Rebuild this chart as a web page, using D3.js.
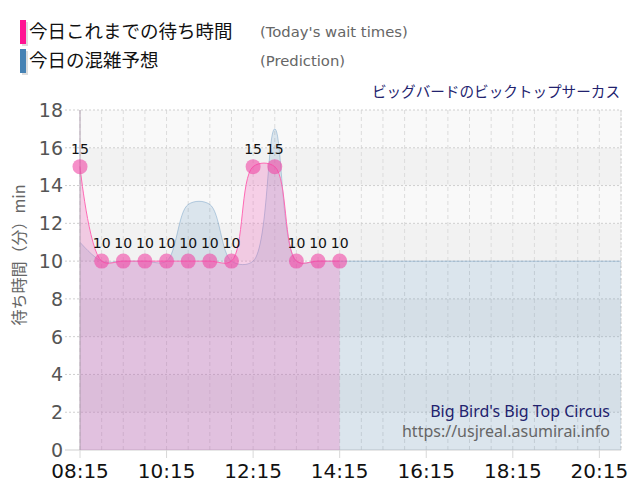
<!DOCTYPE html>
<html>
<head>
<meta charset="utf-8">
<script src="https://cdn.jsdelivr.net/npm/d3@7"></script>
<style>
  body { margin: 0; background: #fff; }
  svg { display: block; }
</style>
</head>
<body>
<div id="chart"></div>
<script>
// half-hour slots shown on the chart
const slots = ["08:15", "08:45", "09:15", "09:45", "10:15", "10:45", "11:15", "11:45",
  "12:15", "12:45", "13:15", "13:45", "14:15", "14:45", "15:15", "15:45", "16:15",
  "16:45", "17:15", "17:45", "18:15", "18:45", "19:15", "19:45", "20:15", "20:45"];

// today's wait times so far (min)
const todayWaits = [15, 10, 10, 10, 10, 10, 10, 10, 15, 15, 10, 10, 10];

// predicted wait times (min)
const predWaits = [11, 10, 10, 10, 10, 13, 13, 10, 10, 17, 10, 10, 10, 10, 10, 10, 10,
  10, 10, 10, 10, 10, 10, 10, 10, 10];

const xTickLabels = ["08:15", "10:15", "12:15", "14:15", "16:15", "18:15", "20:15"];
const yTicks = [0, 2, 4, 6, 8, 10, 12, 14, 16, 18];

const width = 640;
const height = 500;
const margin = { top: 110, right: 19, bottom: 50, left: 80 };

const parseTime = d3.timeParse("%H:%M");

const svg = d3.select("#chart")
  .append("svg")
  .attr("width", width)
  .attr("height", height);

const x = d3.scaleTime()
  .domain([parseTime(slots[0]), parseTime(slots[slots.length - 1])])
  .range([margin.left, width - margin.right]);

const y = d3.scaleLinear()
  .domain([0, 18])
  .range([height - margin.bottom, margin.top]);

// alternating background bands
svg.append("g")
  .selectAll("rect")
  .data(yTicks.slice(0, -1))
  .join("rect")
  .attr("x", x.range()[0])
  .attr("width", x.range()[1] - x.range()[0])
  .attr("y", (d) => y(d + 2))
  .attr("height", (d) => y(d) - y(d + 2))
  .attr("fill", (d, i) => (i % 2 === 0 ? "#f9f9f9" : "#f2f2f2"));

// vertical grid every half hour
svg.append("g")
  .selectAll("line")
  .data(slots.map(parseTime))
  .join("line")
  .attr("x1", (d) => x(d))
  .attr("x2", (d) => x(d))
  .attr("y1", y(18))
  .attr("y2", y(0))
  .attr("stroke", "#dcdcdc")
  .attr("stroke-dasharray", "4,3");

// horizontal grid
svg.append("g")
  .selectAll("line")
  .data(yTicks)
  .join("line")
  .attr("x1", margin.left - 15)
  .attr("x2", x.range()[1])
  .attr("y1", (d) => y(d))
  .attr("y2", (d) => y(d))
  .attr("stroke", "#cfcfcf")
  .attr("stroke-dasharray", (d) => (d === 0 ? null : "2,2"));

// plot border (right side)
svg.append("line")
  .attr("x1", x.range()[1]).attr("x2", x.range()[1])
  .attr("y1", y(18)).attr("y2", y(0))
  .attr("stroke", "#d0d0d0")
  .attr("stroke-dasharray", "2,2");

const curve = d3.curveCatmullRom.alpha(0.5);

const predData = slots.map((t, i) => ({ time: parseTime(t), value: predWaits[i] }));
const todayData = todayWaits.map((v, i) => ({ time: parseTime(slots[i]), value: v }));

const area = d3.area()
  .x((d) => x(d.time))
  .y0(y(0))
  .y1((d) => y(d.value))
  .curve(curve);

const line = d3.line()
  .x((d) => x(d.time))
  .y((d) => y(d.value))
  .curve(curve);

// prediction
svg.append("path")
  .datum(predData)
  .attr("d", area)
  .attr("fill", "rgba(70,130,180,0.17)");

svg.append("path")
  .datum(predData)
  .attr("d", line)
  .attr("fill", "none")
  .attr("stroke", "rgba(70,130,180,0.35)")
  .attr("stroke-width", 1);

// today
svg.append("path")
  .datum(todayData)
  .attr("d", area)
  .attr("fill", "rgba(240,100,185,0.28)");

svg.append("path")
  .datum(todayData)
  .attr("d", line)
  .attr("fill", "none")
  .attr("stroke", "#ff69b4")
  .attr("stroke-width", 1);

// y axis line
svg.append("line")
  .attr("x1", margin.left).attr("x2", margin.left)
  .attr("y1", y(18)).attr("y2", y(0))
  .attr("stroke", "#b0a0b0");

// points
svg.append("g")
  .selectAll("circle")
  .data(todayData)
  .join("circle")
  .attr("cx", (d) => x(d.time))
  .attr("cy", (d) => y(d.value))
  .attr("r", 7.5)
  .attr("fill", "rgba(240,70,165,0.6)");

// value labels
svg.append("g")
  .selectAll("text")
  .data(todayData)
  .join("text")
  .attr("x", (d) => x(d.time))
  .attr("y", (d) => y(d.value) - 13)
  .attr("text-anchor", "middle")
  .attr("font-family", "DejaVu Sans, sans-serif")
  .attr("font-size", 14)
  .attr("fill", "#111")
  .text((d) => d.value);

// y tick labels
svg.append("g")
  .selectAll("text")
  .data(yTicks)
  .join("text")
  .attr("x", margin.left - 17)
  .attr("y", (d) => y(d))
  .attr("dy", "0.36em")
  .attr("text-anchor", "end")
  .attr("font-family", "DejaVu Sans, sans-serif")
  .attr("font-size", 19)
  .attr("fill", "#555")
  .text((d) => d);

// x ticks + labels
const xt = svg.append("g")
  .selectAll("g")
  .data(xTickLabels.map(parseTime))
  .join("g")
  .attr("transform", (d) => `translate(${x(d)},${y(0)})`);

xt.append("line")
  .attr("y2", 8)
  .attr("stroke", "#d8d8d8");

xt.append("text")
  .attr("y", 28)
  .attr("text-anchor", "middle")
  .attr("font-family", "DejaVu Sans, sans-serif")
  .attr("font-size", 20)
  .attr("fill", "#111")
  .text(d3.timeFormat("%H:%M"));

// y axis title
svg.append("text")
  .attr("transform", "translate(25,255) rotate(-90)")
  .attr("text-anchor", "middle")
  .attr("font-family", "Noto Sans CJK JP, sans-serif")
  .attr("font-size", 16)
  .attr("fill", "#666")
  .text("待ち時間（分）min");

// legend
const legend = [
  { color: "#ff1493", label: "今日これまでの待ち時間", en: "(Today's wait times)" },
  { color: "#4682b4", label: "今日の混雑予想", en: "(Prediction)" }
];

const lg = svg.append("g")
  .selectAll("g")
  .data(legend)
  .join("g")
  .attr("transform", (d, i) => `translate(20,${20 + i * 29})`);

lg.append("rect")
  .attr("x", 2).attr("y", 2)
  .attr("width", 6).attr("height", 24)
  .attr("fill", "#ddd");

lg.append("rect")
  .attr("width", 6).attr("height", 24)
  .attr("fill", (d) => d.color);

lg.append("text")
  .attr("x", 9)
  .attr("y", 18)
  .attr("font-family", "Noto Sans CJK JP, sans-serif")
  .attr("font-size", 18.5)
  .attr("fill", "#111")
  .text((d) => d.label);

lg.append("text")
  .attr("x", 240)
  .attr("y", 17)
  .attr("font-family", "DejaVu Sans, sans-serif")
  .attr("font-size", 14.8)
  .attr("fill", "#666")
  .text((d) => d.en);

// attraction name
svg.append("text")
  .attr("x", 620)
  .attr("y", 97)
  .attr("text-anchor", "end")
  .attr("font-family", "Noto Sans CJK JP, sans-serif")
  .attr("font-size", 14.6)
  .attr("fill", "#22226e")
  .text("ビッグバードのビックトップサーカス");

// watermark
svg.append("text")
  .attr("x", 610)
  .attr("y", 417)
  .attr("text-anchor", "end")
  .attr("font-family", "Noto Sans, sans-serif")
  .attr("font-size", 16)
  .attr("fill", "#22226e")
  .text("Big Bird's Big Top Circus");

svg.append("text")
  .attr("x", 610)
  .attr("y", 437)
  .attr("text-anchor", "end")
  .attr("font-family", "Noto Sans, sans-serif")
  .attr("font-size", 16)
  .attr("fill", "#666")
  .text("https://usjreal.asumirai.info");
</script>
</body>
</html>
